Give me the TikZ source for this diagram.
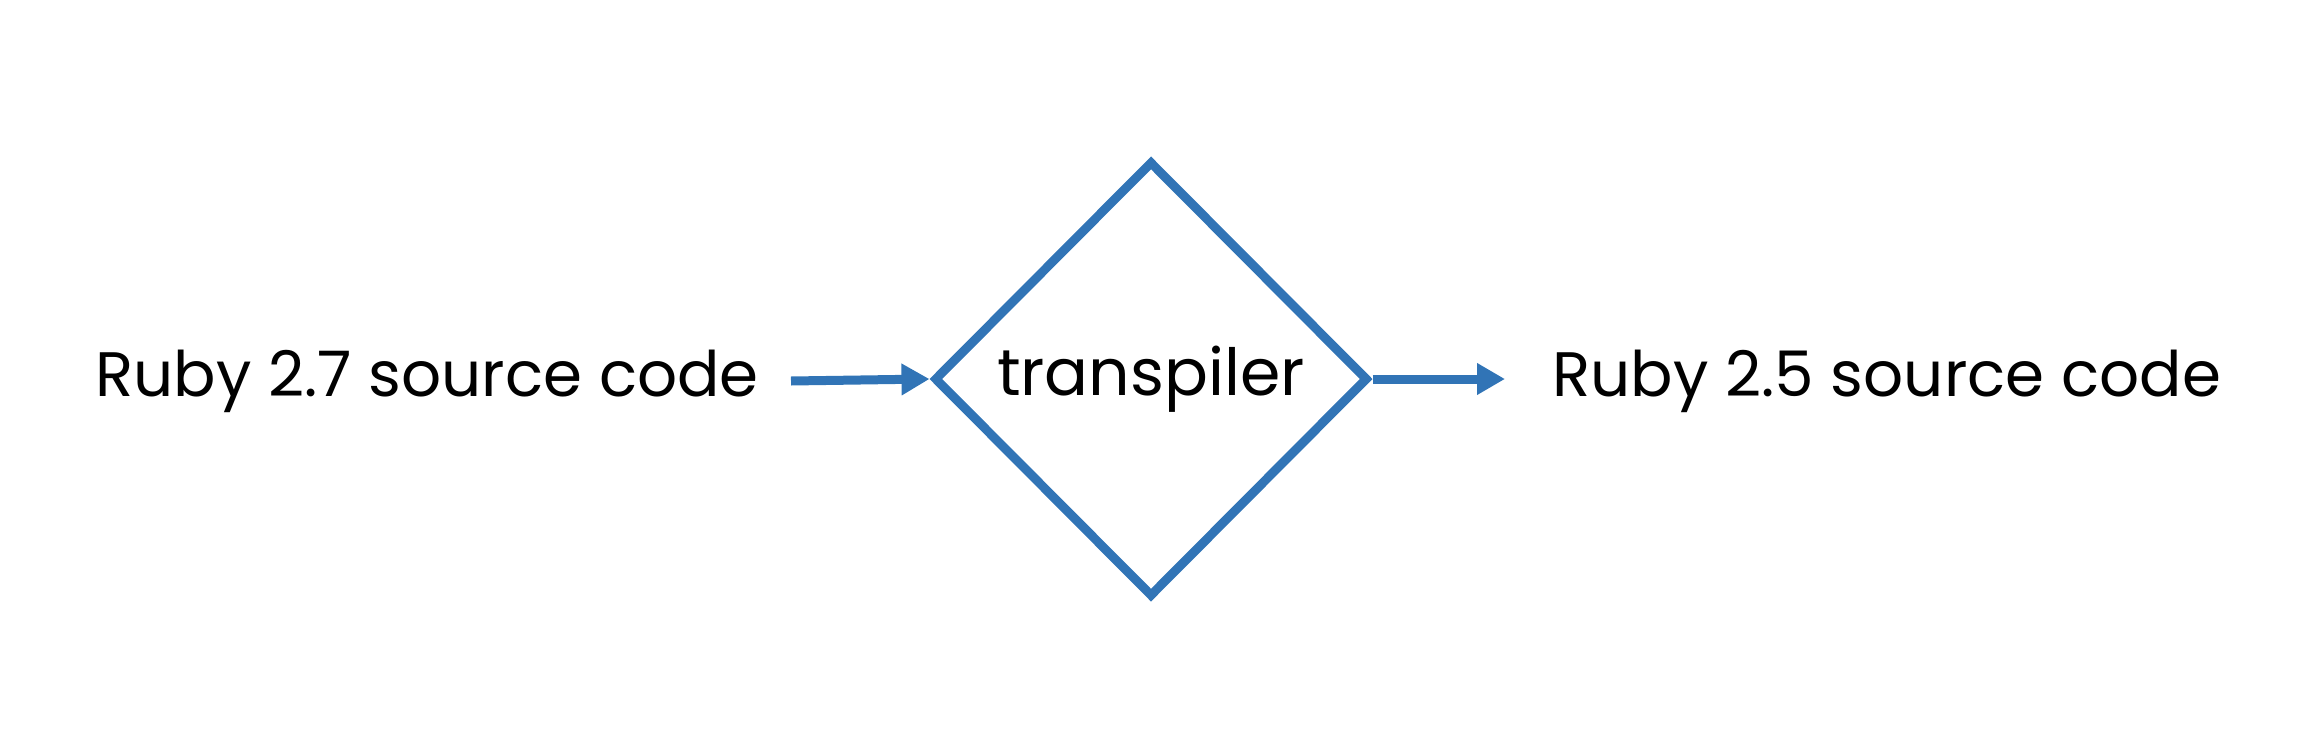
\documentclass[tikz,border=0pt]{standalone}
\usepackage{fontspec}
\setmainfont{Poppins}
\usetikzlibrary{shapes.geometric,arrows.meta}
\definecolor{flowblue}{RGB}{49,116,182}
\tikzset{
  flowline/.style={draw=flowblue, line width=4.5pt},
  flowarrow/.style={flowline, -{Triangle[length=14pt,width=15pt]}},
  label/.style={font=\fontsize{31.4}{36}\selectfont, inner sep=0pt, anchor=base west},
  procbox/.style={diamond, flowline, minimum width=217pt, minimum height=218pt, inner sep=0pt, font=\fontsize{32.5}{36}\selectfont}
}
\begin{document}
\begin{tikzpicture}[x=0.5pt,y=-0.5pt]
\useasboundingbox (0,0) rectangle (2304,734);
\node[label] (src) at (95,396) {Ruby 2.7 source code};
\node[procbox] (d) at (1151,379) {transpiler};
\node[label] (dst) at (1552,396) {Ruby 2.5 source code};
\coordinate (a) at (791,381);
\coordinate (b) at (1505,379);
\draw[flowarrow] (a) -- (d.west);
\draw[flowarrow] (d.east) -- (b);
\end{tikzpicture}
\end{document}
